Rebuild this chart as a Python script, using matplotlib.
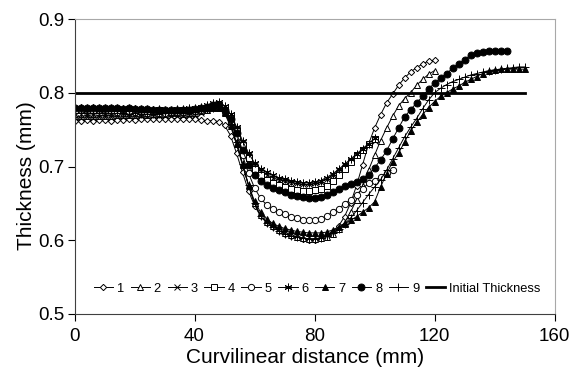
import matplotlib
matplotlib.use("Agg")
from matplotlib import pyplot as plt

# curvilinear distance (mm), shared by every series; each series stops where its data ends
x_mm = [0, 2, 4, 6, 8, 10, 12, 14, 16, 18, 20, 22, 24, 26, 28, 30, 32, 34, 36, 38,
        40, 42, 44, 46, 48, 50, 52, 54, 56, 58, 60, 62, 64, 66, 68, 70, 72, 74, 76, 78,
        80, 82, 84, 86, 88, 90, 92, 94, 96, 98, 100, 102, 104, 106, 108, 110, 112, 114, 116, 118,
        120, 122, 124, 126, 128, 130, 132, 134, 136, 138, 140, 142, 144, 146, 148, 150]

t1 = [0.762, 0.762, 0.763, 0.762, 0.763, 0.763, 0.762, 0.763, 0.763, 0.764, 0.763, 0.764, 0.764, 0.764, 0.765, 0.764, 0.765, 0.765, 0.765, 0.764, 0.764,
      0.763, 0.762, 0.762, 0.761, 0.756, 0.742, 0.718, 0.692, 0.667, 0.647,
      0.633, 0.624, 0.618, 0.613, 0.609, 0.606, 0.604, 0.602, 0.601, 0.601,
      0.603, 0.606, 0.611, 0.619, 0.632, 0.650, 0.674, 0.702, 0.730, 0.752,
      0.770, 0.786, 0.798, 0.810, 0.820, 0.828, 0.834, 0.839, 0.843, 0.844]

t2 = [0.768, 0.768, 0.769, 0.768, 0.769, 0.769, 0.769, 0.770, 0.770, 0.770, 0.770, 0.771, 0.770, 0.771, 0.771, 0.771, 0.772, 0.772, 0.771, 0.772, 0.773,
      0.775, 0.777, 0.779, 0.780, 0.774, 0.757, 0.732, 0.703, 0.674, 0.650,
      0.634, 0.625, 0.619, 0.614, 0.610, 0.607, 0.605, 0.603, 0.602, 0.602,
      0.603, 0.605, 0.609, 0.615, 0.624, 0.638, 0.655, 0.674, 0.695, 0.715,
      0.735, 0.752, 0.768, 0.782, 0.792, 0.800, 0.810, 0.818, 0.825, 0.830]

t3 = [0.766, 0.766, 0.767, 0.766, 0.767, 0.767, 0.767, 0.768, 0.767, 0.768, 0.768, 0.768, 0.768, 0.769, 0.768, 0.769, 0.769, 0.769, 0.770, 0.770, 0.770,
      0.773, 0.777, 0.781, 0.783, 0.779, 0.769, 0.752, 0.732, 0.715, 0.702,
      0.694, 0.689, 0.685, 0.682, 0.680, 0.678, 0.677, 0.676, 0.676, 0.677,
      0.679, 0.683, 0.688, 0.694, 0.701, 0.708, 0.715, 0.722, 0.729, 0.735]

t4 = [0.777, 0.778, 0.777, 0.777, 0.778, 0.777, 0.777, 0.777, 0.776, 0.777, 0.776, 0.776, 0.776, 0.775, 0.776, 0.775, 0.775, 0.775, 0.776, 0.776, 0.777,
      0.778, 0.780, 0.782, 0.783, 0.779, 0.768, 0.750, 0.729, 0.711, 0.697,
      0.688, 0.682, 0.678, 0.675, 0.672, 0.670, 0.668, 0.667, 0.667, 0.668,
      0.670, 0.674, 0.680, 0.688, 0.697, 0.706, 0.715, 0.723, 0.730, 0.737]

t5 = [0.775, 0.776, 0.775, 0.775, 0.776, 0.775, 0.775, 0.774, 0.775, 0.774, 0.774, 0.774, 0.773, 0.774, 0.773, 0.773, 0.774, 0.774, 0.774, 0.775, 0.775,
      0.777, 0.779, 0.781, 0.781, 0.774, 0.760, 0.740, 0.715, 0.691, 0.671,
      0.657, 0.648, 0.642, 0.638, 0.635, 0.632, 0.630, 0.628, 0.627, 0.627,
      0.629, 0.633, 0.638, 0.643, 0.649, 0.655, 0.662, 0.670, 0.677, 0.681,
      0.686, 0.691, 0.695]

t6 = [0.779, 0.780, 0.779, 0.779, 0.780, 0.779, 0.779, 0.779, 0.778, 0.779, 0.778, 0.778, 0.778, 0.777, 0.778, 0.777, 0.777, 0.778, 0.778, 0.779, 0.779,
      0.781, 0.783, 0.786, 0.787, 0.782, 0.771, 0.754, 0.735, 0.718, 0.705,
      0.697, 0.692, 0.688, 0.685, 0.683, 0.681, 0.679, 0.678, 0.678, 0.679,
      0.681, 0.685, 0.690, 0.696, 0.703, 0.710, 0.717, 0.724, 0.731, 0.738]

t7 = [0.781, 0.781, 0.780, 0.781, 0.780, 0.780, 0.780, 0.779, 0.780, 0.779, 0.779, 0.778, 0.778, 0.778, 0.777, 0.777, 0.777, 0.777, 0.777, 0.778, 0.778,
      0.779, 0.780, 0.781, 0.780, 0.772, 0.755, 0.730, 0.702, 0.675, 0.653,
      0.638, 0.629, 0.623, 0.619, 0.616, 0.614, 0.612, 0.611, 0.610, 0.610,
      0.610, 0.611, 0.614, 0.618, 0.622, 0.627, 0.632, 0.638, 0.644, 0.652,
      0.672, 0.690, 0.706, 0.718, 0.733, 0.748, 0.760, 0.770, 0.780, 0.788,
      0.795, 0.800, 0.805, 0.809, 0.814, 0.818, 0.822, 0.826, 0.829, 0.831,
      0.832, 0.832, 0.832, 0.832, 0.832]

t8 = [0.779, 0.779, 0.780, 0.779, 0.779, 0.780, 0.779, 0.779, 0.778, 0.779, 0.778, 0.778, 0.778, 0.777, 0.777, 0.777, 0.777, 0.776, 0.777, 0.777, 0.778,
      0.779, 0.781, 0.783, 0.783, 0.777, 0.765, 0.745, 0.722, 0.702, 0.688,
      0.680, 0.675, 0.671, 0.668, 0.665, 0.662, 0.660, 0.658, 0.657, 0.657,
      0.659, 0.662, 0.666, 0.670, 0.673, 0.676, 0.679, 0.683, 0.689, 0.698,
      0.709, 0.721, 0.737, 0.752, 0.767, 0.777, 0.786, 0.795, 0.805, 0.813,
      0.820, 0.826, 0.833, 0.839, 0.845, 0.851, 0.854, 0.855, 0.856, 0.856,
      0.856, 0.856]

t9 = [0.772, 0.772, 0.773, 0.772, 0.772, 0.773, 0.772, 0.772, 0.772, 0.771, 0.772, 0.771, 0.771, 0.771, 0.771, 0.772, 0.772, 0.772, 0.772, 0.773, 0.774,
      0.776, 0.778, 0.780, 0.781, 0.775, 0.758, 0.733, 0.704, 0.675, 0.650,
      0.633, 0.624, 0.618, 0.613, 0.609, 0.606, 0.604, 0.603, 0.602, 0.602,
      0.603, 0.606, 0.610, 0.615, 0.622, 0.630, 0.640, 0.651, 0.662, 0.672,
      0.682, 0.695, 0.710, 0.725, 0.740, 0.753, 0.765, 0.778, 0.790, 0.800,
      0.806, 0.811, 0.815, 0.818, 0.821, 0.824, 0.826, 0.828, 0.830, 0.831,
      0.832, 0.833, 0.834, 0.835, 0.835]

series_labels = ["1", "2", "3", "4", "5", "6", "7", "8", "9"]
initial_thickness = 0.8
initial_x = [0, 150]

plt.rcParams["font.family"] = ["Liberation Sans", "DejaVu Sans"]

styles = [
    dict(marker="D", ms=3.2, mfc="white"),
    dict(marker="^", ms=4.5, mfc="white"),
    dict(marker="x", ms=4.5),
    dict(marker="s", ms=4.5, mfc="white"),
    dict(marker="o", ms=4.5, mfc="white"),
    dict(marker=(6, 2, 0), ms=5.5),
    dict(marker="^", ms=5, mfc="black"),
    dict(marker="o", ms=5, mfc="black"),
    dict(marker="+", ms=5.5),
]

fig = plt.figure(figsize=(5.77, 3.83), dpi=100)
ax = fig.add_axes([74.5 / 577, 1 - 314 / 383, 480 / 577, 295 / 383])

all_series = [t1, t2, t3, t4, t5, t6, t7, t8, t9]
for t, lab, st in zip(all_series, series_labels, styles):
    ax.plot(x_mm[:len(t)], t, color="black", lw=0.7, mec="black", mew=0.7,
            label=lab, **st)

ax.plot(initial_x, [initial_thickness, initial_thickness], color="black", lw=2,
        label="Initial Thickness")

ax.set_xlim(0, 160)
ax.set_ylim(0.5, 0.9)
ax.set_xticks([0, 40, 80, 120, 160])
ax.set_yticks([0.5, 0.6, 0.7, 0.8, 0.9])
ax.set_yticklabels(["0.5", "0.6", "0.7", "0.8", "0.9"])
ax.tick_params(direction="out", length=5, width=0.8, labelsize=13.5, colors="black")
ax.tick_params(axis="x", pad=5)
ax.tick_params(axis="y", pad=2)

for side in ["top", "right"]:
    ax.spines[side].set_color("#a8a8a8")
for side in ["left", "bottom"]:
    ax.spines[side].set_color("#404040")

ax.set_xlabel("Curvilinear distance (mm)", fontsize=15)
ax.set_ylabel("Thickness (mm)", fontsize=15)
ax.xaxis.set_label_coords(0.48, -0.115)
ax.yaxis.set_label_coords(-0.08, 0.47)

ax.legend(loc="center", bbox_to_anchor=(0.505, 0.085), ncol=10, frameon=False,
          fontsize=9.3, handlelength=1.5, handletextpad=0.3, columnspacing=0.5,
          borderpad=0.2)

fig.savefig("out.png", dpi=100)
